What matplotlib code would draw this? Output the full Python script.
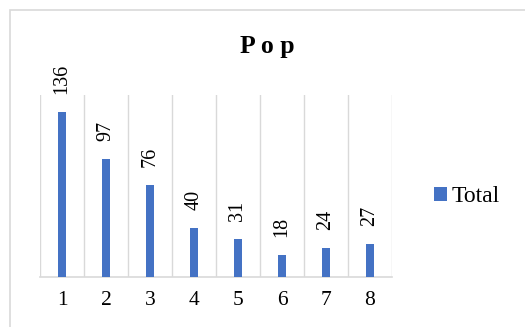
import matplotlib.pyplot as plt
from matplotlib.patches import Rectangle
import numpy as np

categories = ['1', '2', '3', '4', '5', '6', '7', '8']
totals = [136, 97, 76, 40, 31, 18, 24, 27]

plt.rcParams['font.family'] = ['Liberation Serif', 'DejaVu Serif']

fig = plt.figure(figsize=(5.25, 3.27), dpi=100)

# outer chart border
fig.patches.append(Rectangle((10 / 525, -0.05), 1.0, 1 - 10 / 327 + 0.05,
                             transform=fig.transFigure, fill=False,
                             edgecolor='#d9d9d9', linewidth=1.2))

ax = fig.add_axes([40 / 525, 1 - 277 / 327, 352 / 525, 182 / 327])
x = np.arange(len(categories))
bars = ax.bar(x, totals, width=0.18, color='#4472C4', label='Total', zorder=3)

ax.set_xlim(-0.5, len(categories) - 0.5)
ax.set_ylim(0, 150)

# vertical gridlines between categories
for b in np.arange(-0.5, len(categories), 1.0):
    ax.axvline(b, color='#d9d9d9', linewidth=1, zorder=1)

for rect, v in zip(bars, totals):
    ax.annotate(str(v), (rect.get_x() + rect.get_width() / 2, v),
                xytext=(0, 13), textcoords='offset points',
                rotation=90, ha='center', va='bottom', fontsize=14.5)

ax.set_xticks(x)
ax.set_xticklabels(categories, fontsize=15.5)
ax.set_yticks([])
ax.tick_params(axis='x', length=0, pad=10)
for s in ['top', 'right', 'left']:
    ax.spines[s].set_visible(False)
ax.spines['bottom'].set_color('#d9d9d9')
ax.spines['bottom'].set_linewidth(1.2)

fig.text(267 / 525, 1 - 47 / 327, 'P o p', ha='center', va='center',
         fontsize=18.5, fontweight='bold')

fig.legend(handles=[bars], labels=['Total'], loc='center left',
           bbox_to_anchor=(413 / 525, 1 - 197 / 327), frameon=False,
           fontsize=17, handlelength=0.55, handleheight=0.55, handletextpad=0.2)

fig.savefig('out.png', dpi=100)
